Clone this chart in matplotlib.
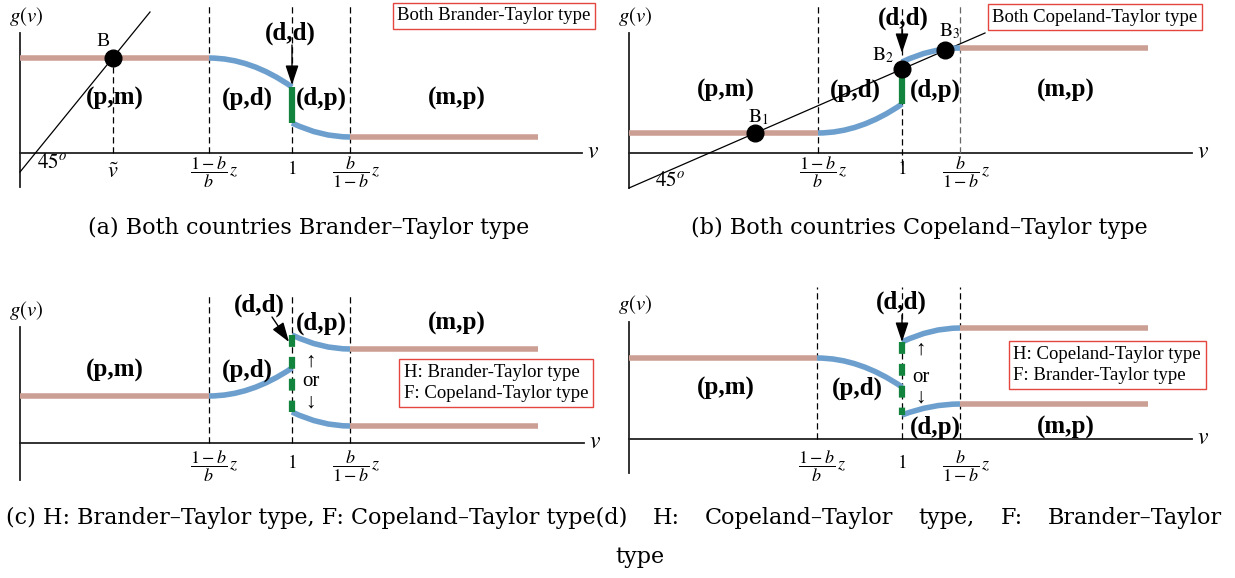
import numpy as np
import matplotlib.pyplot as plt
from matplotlib.path import Path
from matplotlib.patches import PathPatch

W, H = 1235, 578

BROWN = '#cc9f95'
BLUE = '#6c9fcd'
GREEN = '#13843d'
RED = '#e3463f'

# every panel works in pixels measured from its own origin, y pointing up
# v-axis cuts: v tilde / (1-b)/b z, 1, b/(1-b) z, end of g, end of axis
cuts_a = [93, 189, 272, 330, 518, 562]
cuts_b = [189, 273, 331, 519, 563]
cuts_c = [189, 272, 330, 518, 564]
cuts_d = [188, 273, 331, 519, 563]

# g(v) levels
# (a): (p,m) level, (p,d) end at 1, (d,p) start at 1, (m,p) level
g_a = [95, 66, 30, 16]
# (b): (p,m) level, (p,d) end at 1, (d,p) start at 1, (m,p) level
g_b = [20, 49, 91, 105]
# (c), (d): (p,m) level, (p,d) end at 1, upper branch start/end, lower branch start/end
g_c = [47, 75, 108, 94, 31, 17]
g_d = [81, 52, 97, 111, 24, 35]

# 45 degree line end points
diag_a = ([0, 130], [-19, 141])
diag_b = ([0, 356], [-35, 120])

# equilibria in (b)
eq_b_x = [126, 273, 316]
eq_b_y = [20, 84, 103]
eq_b_names = ['$\\mathrm{B}_1$', '$\\mathrm{B}_2$', '$\\mathrm{B}_3$']

plt.rcParams['mathtext.fontset'] = 'stix'
plt.rcParams['font.family'] = ['Liberation Serif', 'DejaVu Serif']

fig = plt.figure(figsize=(W / 100, H / 100), dpi=100)


def make_panel(left, top, width, height, ox, oy):
    ax = fig.add_axes([left / W, 1 - (top + height) / H, width / W, height / H])
    ax.set_xlim(left - ox, left + width - ox)
    ax.set_ylim(oy - top - height, oy - top)
    ax.axis('off')
    return ax


def arc(ax, x0, y0, x1, y1, flat_start):
    # quadratic bezier, horizontal at one end
    cx = x0 + 0.5 * (x1 - x0)
    cy = y0 if flat_start else y1
    path = Path([(x0, y0), (cx, cy), (x1, y1)], [Path.MOVETO, Path.CURVE3, Path.CURVE3])
    ax.add_patch(PathPatch(path, fill=False, ec=BLUE, lw=4, capstyle='butt', zorder=3))


def flat(ax, x0, x1, y):
    ax.plot([x0, x1], [y, y], color=BROWN, lw=4, solid_capstyle='butt', zorder=3)


def frame(ax, ybot, ytop, xend):
    ax.plot([0, 0], [ybot, ytop], color='#222222', lw=1.3)
    ax.plot([0, xend], [0, 0], color='#222222', lw=1.3)
    ax.text(xend + 11, 1, '$v$', fontsize=17, ha='center', va='center')
    ax.text(6, ytop + 17, r'$g\left(v\right)$', fontsize=15, ha='center', va='center')


def dashed(ax, x, ytop, ybot=0, color='k'):
    ax.plot([x, x], [ybot, ytop], color=color, lw=0.9, ls=(0, (5, 3)), zorder=2)


def ticks(ax, x_lo, x_one, x_hi, y):
    ax.text(x_lo + 5, y - 3, r'$\dfrac{1-b}{b}\,z$', fontsize=13, ha='center', va='center')
    ax.text(x_one, y, '$1$', fontsize=14, ha='center', va='center')
    ax.text(x_hi + 6, y - 3, r'$\dfrac{b}{1-b}\,z$', fontsize=13, ha='center', va='center')


def label(ax, x, y, s):
    ax.text(x, y, s, fontsize=18, fontweight='bold', ha='center', va='center', zorder=5)


def down_arrow(ax, x0, y0, x1, y1):
    ax.annotate('', xy=(x1, y1), xytext=(x0, y0),
                arrowprops=dict(arrowstyle='-|>,head_length=0.6,head_width=0.2',
                                mutation_scale=20, color='k', lw=1, shrinkA=0, shrinkB=0),
                zorder=6)


def boxed(ax, x, y, s):
    ax.text(x, y, s, fontsize=13.5, ha='center', va='center', linespacing=1.35,
            multialignment='left',
            bbox=dict(boxstyle='square,pad=0.25', fc='white', ec=RED, lw=1))


def green_jump(ax, x, y_top, y_bot):
    ax.plot([x, x], [y_top, y_bot], color=GREEN, lw=4.5, ls=(0, (1.9, 1.6)),
            solid_capstyle='butt', zorder=4)


# (a) both countries Brander-Taylor type
ax = make_panel(0, 0, 617, 200, 20, 153)
vt, x_lo, x_one, x_hi, x_end, x_ax = cuts_a
frame(ax, -34, 120, x_ax)
for x in (x_lo, x_one, x_hi):
    dashed(ax, x, 148)
dashed(ax, vt, g_a[0])
ax.plot(*diag_a, color='k', lw=0.9)
flat(ax, 0, x_lo, g_a[0])
arc(ax, x_lo, g_a[0], x_one, g_a[1], True)
ax.plot([x_one, x_one], [g_a[1], g_a[2]], color=GREEN, lw=4.5, solid_capstyle='butt', zorder=4)
arc(ax, x_one, g_a[2], x_hi, g_a[3], False)
flat(ax, x_hi, x_end, g_a[3])
ax.plot(vt, g_a[0], 'o', ms=12, color='k', zorder=6)
ax.text(vt - 10, g_a[0] + 16, 'B', fontsize=14, ha='center', va='center')
ax.text(32, -10, '$45^o$', fontsize=15, ha='center', va='center')
ax.text(vt, -20, r'$\tilde{v}$', fontsize=16, ha='center', va='center')
ticks(ax, x_lo, x_one, x_hi, -16)
label(ax, 95, 55, '(p,m)')
label(ax, 227, 55, '(p,d)')
label(ax, 301, 55, '(d,p)')
label(ax, 437, 55, '(m,p)')
label(ax, 270, 120, '(d,d)')
down_arrow(ax, x_one, 108, x_one, g_a[1] + 2)
boxed(ax, 474, 137, 'Both Brander-Taylor type')

# (b) both countries Copeland-Taylor type
ax = make_panel(617, 0, 618, 200, 629, 153)
x_lo, x_one, x_hi, x_end, x_ax = cuts_b
frame(ax, -35, 120, x_ax)
dashed(ax, x_lo, 148)
dashed(ax, x_one, 148, -12)
dashed(ax, x_hi, 148, color='#666666')
ax.plot(*diag_b, color='k', lw=0.9)
flat(ax, 0, x_lo, g_b[0])
arc(ax, x_lo, g_b[0], x_one, g_b[1], True)
ax.plot([x_one, x_one], [g_b[1], g_b[2]], color=GREEN, lw=4.5, solid_capstyle='butt', zorder=4)
arc(ax, x_one, g_b[2], x_hi, g_b[3], False)
flat(ax, x_hi, x_end, g_b[3])
ax.plot(eq_b_x, eq_b_y, 'o', ms=12, color='k', zorder=6)
for bx, by, name, dx, dy in zip(eq_b_x, eq_b_y, eq_b_names, [3, -19, 5], [16, 14, 19]):
    ax.text(bx + dx, by + dy, name, fontsize=14, ha='center', va='center')
ax.text(41, -29, '$45^o$', fontsize=15, ha='center', va='center')
ticks(ax, x_lo, x_one, x_hi, -16)
label(ax, 97, 63, '(p,m)')
label(ax, 226, 63, '(p,d)')
label(ax, 306, 63, '(d,p)')
label(ax, 437, 63, '(m,p)')
label(ax, 274, 135, '(d,d)')
down_arrow(ax, x_one, 126, x_one, 100)
boxed(ax, 466, 136, 'Both Copeland-Taylor type')

# (c) H: Brander-Taylor type, F: Copeland-Taylor type
ax = make_panel(0, 280, 617, 210, 20, 443)
x_lo, x_one, x_hi, x_end, x_ax = cuts_c
frame(ax, -37, 116, x_ax)
for x in (x_lo, x_one, x_hi):
    dashed(ax, x, 150)
flat(ax, 0, x_lo, g_c[0])
arc(ax, x_lo, g_c[0], x_one, g_c[1], True)
green_jump(ax, x_one, g_c[2], g_c[4])
arc(ax, x_one, g_c[2], x_hi, g_c[3], False)
arc(ax, x_one, g_c[4], x_hi, g_c[5], False)
flat(ax, x_hi, x_end, g_c[3])
flat(ax, x_hi, x_end, g_c[5])
ticks(ax, x_lo, x_one, x_hi, -20)
label(ax, 95, 73, '(p,m)')
label(ax, 227, 73, '(p,d)')
label(ax, 301, 120, '(d,p)')
label(ax, 437, 120, '(m,p)')
label(ax, 239, 138, '(d,d)')
down_arrow(ax, 252, 126, x_one - 3, 101)
for yy, s in zip([81, 61, 40], ['↑', 'or', '↓']):
    ax.text(291, yy, s, fontsize=15, ha='center', va='center')
boxed(ax, 476, 60, 'H: Brander-Taylor type\nF: Copeland-Taylor type')

# (d) H: Copeland-Taylor type, F: Brander-Taylor type
ax = make_panel(617, 280, 618, 210, 629, 439)
x_lo, x_one, x_hi, x_end, x_ax = cuts_d
frame(ax, -34, 117, x_ax)
for x in (x_lo, x_one, x_hi):
    dashed(ax, x, 152)
flat(ax, 0, x_lo, g_d[0])
arc(ax, x_lo, g_d[0], x_one, g_d[1], True)
green_jump(ax, x_one, g_d[2], g_d[4])
arc(ax, x_one, g_d[2], x_hi, g_d[3], False)
arc(ax, x_one, g_d[4], x_hi, g_d[5], False)
flat(ax, x_hi, x_end, g_d[3])
flat(ax, x_hi, x_end, g_d[5])
ticks(ax, x_lo, x_one, x_hi, -24)
label(ax, 97, 51, '(p,m)')
label(ax, 228, 51, '(p,d)')
label(ax, 306, 12, '(d,p)')
label(ax, 437, 12, '(m,p)')
label(ax, 272, 137, '(d,d)')
down_arrow(ax, x_one, 124, x_one, g_d[2])
for yy, s in zip([89, 62, 41], ['↑', 'or', '↓']):
    ax.text(292, yy, s, fontsize=15, ha='center', va='center')
boxed(ax, 478, 74, 'H: Copeland-Taylor type\nF: Brander-Taylor type')

# sub-captions
cap = dict(fontsize=16, family=['DejaVu Serif'], va='center')
fig.text(309 / W, 1 - 228 / H, '(a) Both countries Brander–Taylor type', ha='center', **cap)
fig.text(919 / W, 1 - 228 / H, '(b) Both countries Copeland–Taylor type', ha='center', **cap)

# second row runs into (d) and is stretched out to the right margin
row_y = 1 - 518 / H
renderer = fig.canvas.get_renderer()
head = fig.text(6 / W, row_y, '(c) H: Brander–Taylor type, F: Copeland–Taylor type(d)',
                ha='left', **cap)
x_pos = head.get_window_extent(renderer).x1
words = ['H:', 'Copeland–Taylor', 'type,', 'F:', 'Brander–Taylor']
parts = [fig.text(0, row_y, w, ha='left', **cap) for w in words]
widths = [p.get_window_extent(renderer).width for p in parts]
gap = (1222 - x_pos - sum(widths)) / len(words)
for p, w in zip(parts, widths):
    x_pos += gap
    p.set_x(x_pos / W)
    x_pos += w
fig.text(640 / W, 1 - 557 / H, 'type', ha='center', **cap)

fig.savefig('out.png', dpi=100)
